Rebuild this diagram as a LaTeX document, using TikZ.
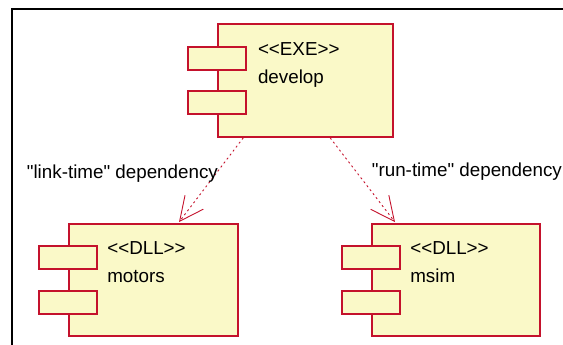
\documentclass[tikz,border=0pt]{standalone}
\usepackage{fontspec}
\setmainfont{Liberation Sans}[Ligatures=TeXOff]
\usetikzlibrary{arrows.meta}
\definecolor{comprd}{RGB}{196,18,44}
\definecolor{compyl}{RGB}{250,249,200}
\tikzset{
  comp/.style={draw=comprd,fill=compyl,line width=1.8pt,inner sep=0pt},
  comptab/.style={draw=comprd,fill=compyl,line width=1.8pt,inner sep=0pt,minimum width=58pt,minimum height=23pt},
  comptxt/.style={anchor=north west,inner sep=0pt,align=left,font=\fontsize{18.8}{27.4}\selectfont},
  dep/.style={comprd,line width=0.9pt,dash pattern=on 2pt off 3pt,-{Straight Barb[length=24pt,width=23pt,line width=0.9pt]}},
  deplbl/.style={anchor=base west,inner sep=0pt,font=\fontsize{18.8}{22}\selectfont}
}
\begin{document}
\begin{tikzpicture}[x=1pt,y=-1pt]
  \useasboundingbox (0,0) rectangle (563,345);
  % 枠
  \draw[line width=2.2pt] (11.7,346) |- (564,9);
  % コンポーネント
  \node[comp,minimum width=175pt,minimum height=113pt] (develop) at (305.2,80.5) {};
  \node[comptab,yshift=22.3pt] (develop-tab1) at (develop.west) {};
  \node[comptab,yshift=-22.3pt] (develop-tab2) at (develop.west) {};
  \node[comptxt] (develop-txt) at ([xshift=41pt,yshift=-19.5pt]develop.north west) {<<EXE>>\\develop};
  \node[comp,minimum width=169pt,minimum height=112pt] (motors) at (153.5,280) {};
  \node[comptab,yshift=22.5pt] (motors-tab1) at (motors.west) {};
  \node[comptab,yshift=-22.5pt] (motors-tab2) at (motors.west) {};
  \node[comptxt] (motors-txt) at ([xshift=39pt,yshift=-18.5pt]motors.north west) {<<DLL>>\\motors};
  \node[comp,minimum width=168pt,minimum height=112pt] (msim) at (456,280) {};
  \node[comptab,yshift=22.5pt] (msim-tab1) at (msim.west) {};
  \node[comptab,yshift=-22.5pt] (msim-tab2) at (msim.west) {};
  \node[comptxt] (msim-txt) at ([xshift=39pt,yshift=-18.5pt]msim.north west) {<<DLL>>\\msim};
  % 依存関係
  \draw[dep] ([xshift=-62pt]develop.south) -- ([xshift=25.5pt,yshift=1pt]motors.north);
  \draw[dep] ([xshift=25pt]develop.south) -- ([xshift=-61pt,yshift=1pt]msim.north);
  \node[deplbl] (link-lbl) at (26.7,178.3) {"link-time" dependency};
  \node[deplbl] (run-lbl) at (371.7,176.7) {"run-time" dependency};
\end{tikzpicture}
\end{document}
